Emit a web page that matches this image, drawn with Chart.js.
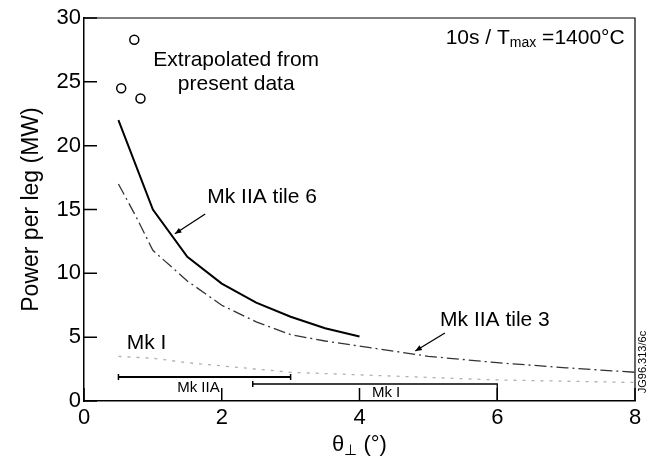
<!DOCTYPE html>
<html>
<head>
<meta charset="utf-8">
<script src="https://cdn.jsdelivr.net/npm/chart.js@4"></script>
<style>
  html, body { margin: 0; padding: 0; background: #fff; }
  #wrap { width: 650px; height: 473px; }
</style>
</head>
<body>
<div id="wrap"><canvas id="powerChart" width="650" height="473"></canvas></div>
<script>
// Mk IIA tile 6 (solid)
const tile6X = [0.5, 1.0, 1.5, 2.0, 2.5, 3.0, 3.5, 4.0];
const tile6Y = [22.0, 15.0, 11.3, 9.2, 7.7, 6.6, 5.7, 5.05];

// Mk IIA tile 3 (dash-dot)
const tile3X = [0.5, 0.75, 1.0, 1.5, 2.0, 2.5, 3.0, 3.5, 4.0, 5.0, 6.0, 7.0, 8.0];
const tile3Y = [17.0, 14.5, 11.8, 9.4, 7.5, 6.2, 5.2, 4.7, 4.3, 3.5, 3.0, 2.6, 2.25];

// Mk I (dotted)
const mk1X = [0.5, 1.0, 1.5, 2.0, 2.5, 3.0, 4.0, 5.0, 6.0, 7.0, 8.0];
const mk1Y = [3.5, 3.35, 3.0, 2.75, 2.5, 2.25, 2.05, 1.85, 1.65, 1.55, 1.45];

// extrapolated points (circles)
const extrapX = [0.54, 0.73, 0.82];
const extrapY = [24.5, 28.3, 23.7];

// operating ranges
const rangeIIAX = [0.5, 3.0];
const rangeIIAY = [1.88, 1.88];
const rangeIX = [2.45, 6.0, 6.0];
const rangeIY = [1.33, 1.33, 0];

const xTicks = [0, 2, 4, 6, 8];
const yTicks = [0, 5, 10, 15, 20, 25, 30];

const FONT = '"Liberation Sans", Arial, Helvetica, sans-serif';

function pts(xs, ys) {
  return xs.map((v, i) => ({ x: v, y: ys[i] }));
}

// frame, inward ticks and the annotations
const decor = {
  id: 'decor',
  afterDatasetsDraw(chart) {
    const { ctx, chartArea: a, scales: { x, y } } = chart;
    const px = v => x.getPixelForValue(v);
    const py = v => y.getPixelForValue(v);
    ctx.save();
    ctx.strokeStyle = '#000';
    ctx.fillStyle = '#000';

    ctx.lineWidth = 1.2;
    ctx.beginPath();
    ctx.moveTo(a.left, a.top);
    ctx.lineTo(a.right, a.top);
    ctx.lineTo(a.right, a.bottom);
    ctx.stroke();

    ctx.lineWidth = 1.5;
    ctx.beginPath();
    yTicks.forEach(v => { ctx.moveTo(a.left, py(v)); ctx.lineTo(a.left + 13, py(v)); });
    xTicks.forEach(v => { ctx.moveTo(px(v), a.bottom); ctx.lineTo(px(v), a.bottom - 13); });
    ctx.stroke();

    function text(s, vx, vy, align, size) {
      ctx.font = size + 'px ' + FONT;
      ctx.textAlign = align;
      ctx.textBaseline = 'middle';
      ctx.fillText(s, px(vx), py(vy));
    }
    function arrow(x0, y0, x1, y1) {
      const ax = px(x0), ay = py(y0), bx = px(x1), by = py(y1);
      ctx.lineWidth = 1.3;
      ctx.beginPath(); ctx.moveTo(ax, ay); ctx.lineTo(bx, by); ctx.stroke();
      const ang = Math.atan2(by - ay, bx - ax);
      ctx.beginPath();
      ctx.moveTo(bx, by);
      ctx.lineTo(bx - 7 * Math.cos(ang - 0.4), by - 7 * Math.sin(ang - 0.4));
      ctx.lineTo(bx - 7 * Math.cos(ang + 0.4), by - 7 * Math.sin(ang + 0.4));
      ctx.closePath(); ctx.fill();
    }

    text('Extrapolated from', 2.21, 26.7, 'center', 21);
    text('present data', 2.21, 24.8, 'center', 21);
    text('Mk IIA tile 6', 1.79, 16.0, 'left', 21);
    arrow(1.76, 14.65, 1.32, 13.1);
    text('Mk IIA tile 3', 5.17, 6.34, 'left', 21);
    arrow(5.24, 5.33, 4.81, 3.92);
    text('Mk I', 0.62, 4.54, 'left', 21);
    text('Mk IIA', 1.97, 1.0, 'right', 15);
    text('Mk I', 4.18, 0.63, 'left', 15);

    // 10s / Tmax =1400°C, right aligned
    ctx.font = '21px ' + FONT;
    const p1 = '10s / T', p3 = ' =1400°C';
    const w1 = ctx.measureText(p1).width, w3 = ctx.measureText(p3).width;
    ctx.font = '14px ' + FONT;
    const w2 = ctx.measureText('max').width;
    let sx = px(7.85) - (w1 + w2 + w3);
    const sy = py(28.4);
    ctx.textAlign = 'left';
    ctx.textBaseline = 'middle';
    ctx.font = '21px ' + FONT;
    ctx.fillText(p1, sx, sy);
    ctx.font = '14px ' + FONT;
    ctx.fillText('max', sx + w1, sy + 5);
    ctx.font = '21px ' + FONT;
    ctx.fillText(p3, sx + w1 + w2, sy);

    // x axis title with subscript
    ctx.font = '22px ' + FONT;
    const t1 = 'θ', t3 = ' (°)';
    const tw1 = ctx.measureText(t1).width, tw3 = ctx.measureText(t3).width;
    ctx.font = '15px ' + FONT;
    const tw2 = ctx.measureText('⊥').width;
    let tx = (a.left + a.right) / 2 - (tw1 + tw2 + tw3) / 2;
    const ty = 445;
    ctx.font = '22px ' + FONT;
    ctx.fillText(t1, tx, ty);
    ctx.font = '15px ' + FONT;
    ctx.fillText('⊥', tx + tw1, ty + 6);
    ctx.font = '22px ' + FONT;
    ctx.fillText(t3, tx + tw1 + tw2, ty);

    // figure reference
    ctx.save();
    ctx.translate(a.right + 8, py(3.05));
    ctx.rotate(-Math.PI / 2);
    ctx.font = '11px ' + FONT;
    ctx.textAlign = 'center';
    ctx.fillText('JG96.313/6c', 0, 0);
    ctx.restore();

    ctx.restore();
  }
};

Chart.defaults.color = '#000';
Chart.defaults.font.family = FONT;

const ctx = document.getElementById('powerChart').getContext('2d');
const powerChart = new Chart(ctx, {
  type: 'scatter',
  data: {
    datasets: [
      {
        label: 'Mk IIA tile 6',
        data: pts(tile6X, tile6Y),
        showLine: true,
        borderColor: '#000',
        borderWidth: 2,
        pointRadius: 0
      },
      {
        label: 'Mk IIA tile 3',
        data: pts(tile3X, tile3Y),
        showLine: true,
        borderColor: '#333',
        borderWidth: 1.3,
        borderDash: [12, 4, 2, 4],
        pointRadius: 0
      },
      {
        label: 'Mk I',
        data: pts(mk1X, mk1Y),
        showLine: true,
        borderColor: '#b0b0b0',
        borderWidth: 1.3,
        borderDash: [3, 6],
        pointRadius: 0
      },
      {
        label: 'Extrapolated',
        data: pts(extrapX, extrapY),
        showLine: false,
        pointStyle: 'circle',
        pointRadius: 4.5,
        pointBorderWidth: 1.5,
        borderColor: '#000',
        backgroundColor: '#fff'
      },
      {
        label: 'Mk IIA range',
        data: pts(rangeIIAX, rangeIIAY),
        showLine: true,
        borderColor: '#000',
        borderWidth: 1.8,
        pointStyle: 'line',
        pointRotation: 90,
        pointRadius: 3,
        pointBorderWidth: 1.5
      },
      {
        label: 'Mk I range',
        data: pts(rangeIX, rangeIY),
        showLine: true,
        borderColor: '#000',
        borderWidth: 1.3,
        pointStyle: 'line',
        pointRotation: 90,
        pointRadius: [3, 0, 0],
        pointBorderWidth: 1.5
      }
    ]
  },
  options: {
    responsive: false,
    animation: false,
    layout: { padding: { left: 0, right: 15, top: 18, bottom: 0 } },
    plugins: {
      legend: { display: false },
      tooltip: { enabled: false }
    },
    scales: {
      x: {
        type: 'linear',
        min: 0,
        max: 8,
        afterFit: s => { s.height = 72; },
        afterBuildTicks: s => { s.ticks = xTicks.map(v => ({ value: v })); },
        grid: { display: false, drawTicks: false },
        border: { display: true, color: '#000', width: 1.5 },
        ticks: { padding: 4, font: { size: 22 }, color: '#000' }
      },
      y: {
        type: 'linear',
        min: 0,
        max: 30,
        afterFit: s => { s.width = 84; },
        afterBuildTicks: s => { s.ticks = yTicks.map(v => ({ value: v })); },
        grid: { display: false, drawTicks: false },
        border: { display: true, color: '#000', width: 1.5 },
        ticks: { padding: 3, font: { size: 22 }, color: '#000' },
        title: {
          display: true,
          text: 'Power per leg (MW)',
          font: { size: 23 },
          color: '#000',
          padding: { top: 18, bottom: 0 }
        }
      }
    }
  },
  plugins: [decor]
});
</script>
</body>
</html>
